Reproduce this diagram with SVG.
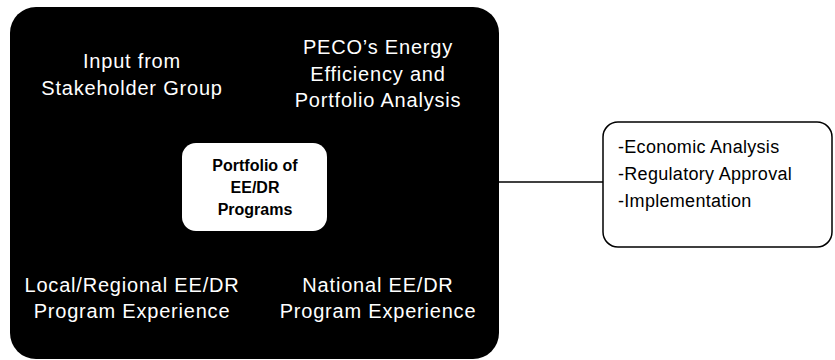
<svg xmlns="http://www.w3.org/2000/svg" width="835" height="360" viewBox="0 0 835 360">
<style>
.w{font-family:"Liberation Sans",Arial,sans-serif;font-size:20px;fill:#fff;text-anchor:middle;letter-spacing:0.8px}
.c{font-family:"Liberation Sans",Arial,sans-serif;font-size:16px;font-weight:bold;fill:#000;text-anchor:middle}
.r{font-family:"Liberation Sans",Arial,sans-serif;font-size:18px;fill:#000;letter-spacing:0.3px}
</style>
<rect width="835" height="360" fill="#fff"/>
<g id="outer">
<rect x="10" y="7" width="489" height="352" rx="26" fill="#000"/>
</g>
<g id="stakeholder">
<text class="w" x="132" y="68">Input from</text>
<text class="w" x="132" y="95">Stakeholder Group</text>
</g>
<g id="peco">
<text class="w" x="378" y="54">PECO’s Energy</text>
<text class="w" x="378" y="81">Efficiency and</text>
<text class="w" x="378" y="107">Portfolio Analysis</text>
</g>
<g id="local">
<text class="w" x="132" y="292">Local/Regional EE/DR</text>
<text class="w" x="132" y="318">Program Experience</text>
</g>
<g id="national">
<text class="w" x="378" y="292">National EE/DR</text>
<text class="w" x="378" y="318">Program Experience</text>
</g>
<g id="portfolio">
<rect x="182" y="143" width="145" height="88" rx="14" fill="#fff"/>
<text class="c" x="255" y="171">Portfolio of</text>
<text class="c" x="255" y="193">EE/DR</text>
<text class="c" x="255" y="215">Programs</text>
</g>
<g id="connectors">
<line x1="499" y1="182" x2="603" y2="182" stroke="#000" stroke-width="1.5"/>
</g>
<g id="steps">
<rect x="603" y="122" width="229" height="125" rx="15" fill="#fff" stroke="#000" stroke-width="1.5"/>
<text class="r" x="618" y="153">-Economic Analysis</text>
<text class="r" x="618" y="180">-Regulatory Approval</text>
<text class="r" x="618" y="207">-Implementation</text>
</g>
</svg>
